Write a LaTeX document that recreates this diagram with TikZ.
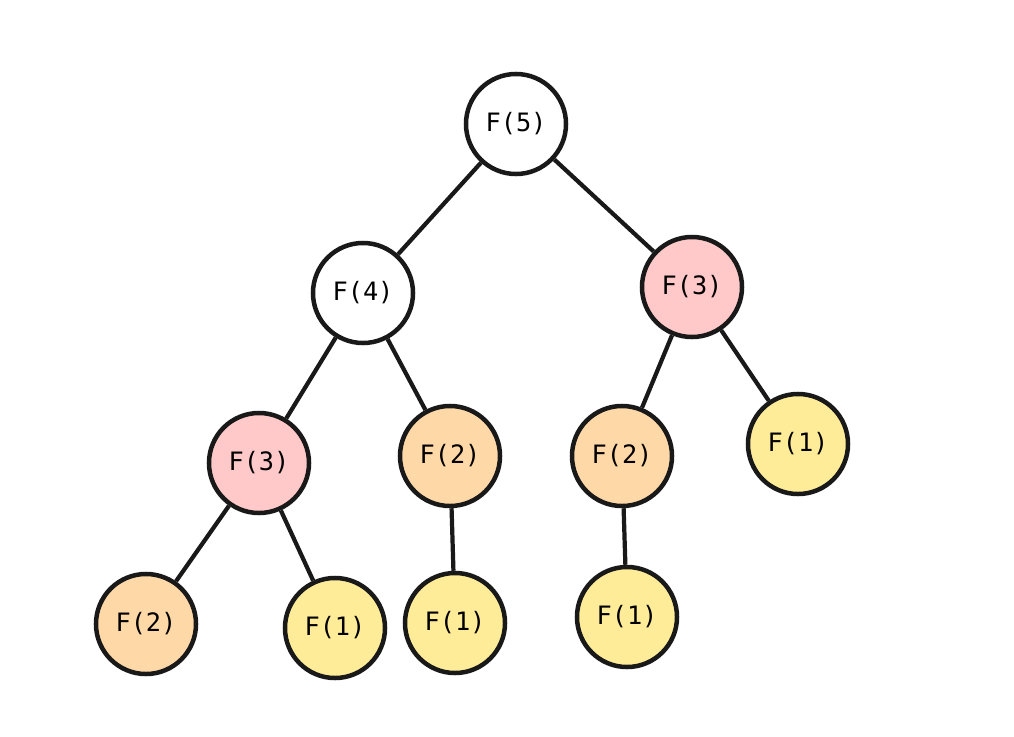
\documentclass[tikz,border=0pt]{standalone}
\usepackage{fontspec}
\setmonofont{DejaVu Sans Mono}
\definecolor{fpink}{HTML}{FFC9C9}
\definecolor{forange}{HTML}{FFD8A8}
\definecolor{fyellow}{HTML}{FFEC99}
\begin{document}
\begin{tikzpicture}[x = 0.025cm, y = -0.025cm,
        call/.style = {circle, draw = black!90, line width = 3.2pt, minimum size = 2.5cm,
            inner sep = 0pt, font = \ttfamily\fontsize{18}{20}\selectfont},
        edge/.style = {line width = 3pt, black!90}]
    \useasboundingbox (0,0) rectangle (1014,737);
    \node[call, fill = white] (f5) at (516,124) {F(5)};
    \node[call, fill = white] (f4) at (363,293) {F(4)};
    \node[call, fill = fpink] (f3r) at (692,287) {F(3)};
    \node[call, fill = fpink] (f3l) at (259,463) {F(3)};
    \node[call, fill = forange] (f2m) at (450,456) {F(2)};
    \node[call, fill = forange] (f2r) at (622,456) {F(2)};
    \node[call, fill = fyellow] (f1r) at (798,444) {F(1)};
    \node[call, fill = forange] (f2bl) at (146,624) {F(2)};
    \node[call, fill = fyellow] (f1a) at (335,628) {F(1)};
    \node[call, fill = fyellow] (f1b) at (455,623) {F(1)};
    \node[call, fill = fyellow] (f1c) at (627,617) {F(1)};
    \foreach \a/\b in {f5/f4, f5/f3r, f4/f3l, f4/f2m, f3r/f2r, f3r/f1r,
            f3l/f2bl, f3l/f1a, f2m/f1b, f2r/f1c} {
        \draw[edge] (\a) -- (\b);
    }
\end{tikzpicture}
\end{document}
